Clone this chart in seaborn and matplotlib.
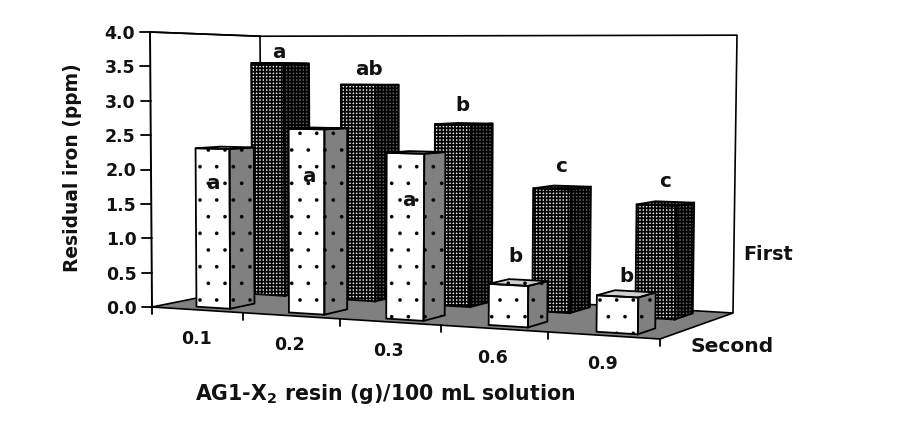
import numpy as np
import seaborn as sns
import matplotlib
matplotlib.use('Agg')
import matplotlib.pyplot as plt
from matplotlib.patches import Polygon
from matplotlib.transforms import Transform, IdentityTransform

resin = ['0.1', '0.2', '0.3', '0.6', '0.9']
first_iron = [3.56, 3.24, 2.67, 1.77, 1.59]
second_iron = [2.31, 2.62, 2.31, 0.56, 0.485]
first_letters = ['a', 'ab', 'b', 'c', 'c']
second_letters = ['a', 'a', 'a', 'b', 'b']
first_letter_z = [3.76, 3.5, 2.98, 2.1, 1.93]
second_letter_z = [1.83, 1.97, 1.69, 0.97, 0.78]
y_ticks = [0.0, 0.5, 1.0, 1.5, 2.0, 2.5, 3.0, 3.5, 4.0]

sns.set_theme(style='white', rc={'hatch.linewidth': 0.2})
plt.rcParams['font.family'] = ['DejaVu Sans']
plt.rcParams['mathtext.fontset'] = 'custom'
plt.rcParams['mathtext.bf'] = 'DejaVu Sans:bold'
plt.rcParams['mathtext.rm'] = 'DejaVu Sans:bold'
plt.rcParams['mathtext.default'] = 'bf'

W, H_PX = 898, 433
FLOOR_GRAY = '#808080'

# floor corners in image pixels -> homography for the fake 3d look
src = [(0, 0), (5, 0), (5, 1), (0, 1)]
dst = [(152, 307), (660, 339), (733, 313), (262, 285)]
A, b = [], []
for (u, v), (px_, py_) in zip(src, dst):
    A.append([u, v, 1, 0, 0, 0, -u * px_, -v * px_])
    A.append([0, 0, 0, u, v, 1, -u * py_, -v * py_])
    b += [px_, py_]
h = np.linalg.solve(np.array(A, float), np.array(b, float))
HOM = np.append(h, 1).reshape(3, 3)
PX_PER_PPM = 68.75


def project(u, d, z):
    u, d, z = np.atleast_1d(u).astype(float), np.atleast_1d(d).astype(float), np.atleast_1d(z).astype(float)
    uw = u - 0.0135 * u * (5 - u)
    w = HOM[2, 0] * uw + HOM[2, 1] * d + HOM[2, 2]
    f = 1 + 0.011 * u - 0.016 * d
    x = (HOM[0, 0] * uw + HOM[0, 1] * d + HOM[0, 2]) / w + z * (-0.5 + 0.3 * u)
    y = (HOM[1, 0] * uw + HOM[1, 1] * d + HOM[1, 2] - PX_PER_PPM * f * z) / w
    return np.column_stack([x, H_PX - y])


class RowProjection(Transform):
    input_dims = 2
    output_dims = 2
    has_inverse = False

    def __init__(self, row_depth, shift):
        super().__init__()
        self.row_depth = row_depth
        self.shift = shift

    def transform_non_affine(self, values):
        values = np.asarray(values, float)
        return project(values[:, 0] + 0.5 + self.shift, np.full(len(values), self.row_depth), values[:, 1])


fig = plt.figure(figsize=(W / 100, H_PX / 100), dpi=100)
ax = fig.add_axes([0, 0, 1, 1])
screen = IdentityTransform()


def px(x, y):
    return x, H_PX - y


def draw_row(values, depth, depth2, shift, face_kws, side_kws, top_kws, z, hatch_lw=None):
    sns.barplot(x=resin, y=values, ax=ax, width=0.37, saturation=1, errorbar=None,
                linewidth=0, zorder=z, **face_kws)
    tr = RowProjection(depth, shift)
    made = []
    for bar in ax.containers[-1]:
        bar.set_transform(tr)
        made.append(bar)
        x0, x1 = bar.get_x() + 0.5 + shift, bar.get_x() + bar.get_width() + 0.5 + shift
        top = bar.get_height()
        front = project([x0, x1, x1, x0], [depth] * 4, [0, 0, top, top])
        side = project([x1, x1, x1, x1], [depth, depth2, depth2, depth], [0, 0, top, top])
        roof = project([x0, x1, x1, x0], [depth, depth, depth2, depth2], [top] * 4)
        made.append(ax.add_patch(Polygon(side, transform=screen, linewidth=0, zorder=z, **side_kws)))
        made.append(ax.add_patch(Polygon(roof, transform=screen, linewidth=0, zorder=z, **top_kws)))
        for poly in (front, side, roof):
            ax.add_patch(Polygon(poly, transform=screen, fill=False, edgecolor='black',
                                 linewidth=1.3, zorder=z + 0.5))
    if hatch_lw is not None:
        for p in made:
            p.set_hatch_linewidth(hatch_lw)


# floor and walls
floor = project([0, 5, 5, 0], [0, 0, 1, 1], [0, 0, 0, 0])
ax.add_patch(Polygon(floor, transform=screen, facecolor=FLOOR_GRAY, edgecolor='black',
                     linewidth=1.2, zorder=1))
wall = project([0, 0, 5, 5], [0, 1, 1, 1], [4, 4, 4, 0])
ax.plot(wall[:, 0], wall[:, 1], color='black', lw=1.2, transform=screen, zorder=1)
left = project([0, 0], [0, 0], [0, 4])
ax.plot(left[:, 0], left[:, 1], color='black', lw=1.4, transform=screen, zorder=1)
top_left = project([0, 0], [0, 1], [4, 4])
ax.plot(top_left[:, 0], top_left[:, 1], color='black', lw=1.2, transform=screen, zorder=1)
corner = project([0, 0], [1, 1], [0, 4])
ax.plot(corner[:, 0], corner[:, 1], color='black', lw=1.2, transform=screen, zorder=1)

draw_row(first_iron, 0.65, 0.90, 0.0,
         dict(color='#eeeeee', edgecolor='black', hatch='+++++'),
         dict(facecolor='#666666', edgecolor='black', hatch='+++++'),
         dict(facecolor='#666666', edgecolor='black', hatch='+++++'), 3, hatch_lw=1.25)
draw_row(second_iron, 0.10, 0.32, 0.05,
         dict(color='white', edgecolor='black', hatch='.'),
         dict(facecolor=FLOOR_GRAY, edgecolor='black', hatch='.'),
         dict(facecolor='#d0d0d0', edgecolor='black', hatch='.'), 5)

ax.axis('off')

font = dict(fontweight='bold', color='#111111', transform=screen, fontsize=12.5, zorder=8)
big_font = dict(font, fontsize=14.3)

# y axis ticks
for t in y_ticks:
    x, y = project(0, 0, t)[0]
    ax.plot([x - 10, x], [y, y], color='black', lw=1.3, transform=screen)
    ax.text(x - 15, y, f'{t:.1f}', ha='right', va='center_baseline', **font)

# x axis ticks and labels
for i in range(6):
    x, y = project(i, 0, 0)[0]
    ax.plot([x, x], [y, y - 7], color='black', lw=1.3, transform=screen)
for i, name in enumerate(resin):
    x, y = project(i + 0.5, 0, 0)[0]
    ax.text(x - 1, y - 27, name, ha='center', va='center_baseline', **font)

# significance letters
for i in range(5):
    x, y = project(i + 0.5, 0.76, first_letter_z[i])[0]
    ax.text(x, y, first_letters[i], ha='center', va='center_baseline', **big_font)
    x, y = project(i + 0.55 + 0.02 * i, 0.10, second_letter_z[i])[0]
    ax.text(x, y, second_letters[i], ha='center', va='center_baseline', **big_font)

ax.text(*px(743, 253), 'First', ha='left', va='center_baseline', **dict(font, fontsize=13.8))
ax.text(*px(691, 345), 'Second', ha='left', va='center_baseline', **dict(font, fontsize=14.6))
ax.text(*px(72, 168), 'Residual iron (ppm)', rotation=90, ha='center', va='center', **dict(font, fontsize=13.4))
ax.text(*px(385, 394), 'AG1-X$_2$ resin (g)/100 mL solution', ha='center', va='center', **dict(font, fontsize=14.8))

fig.savefig('out.png', dpi=100)
